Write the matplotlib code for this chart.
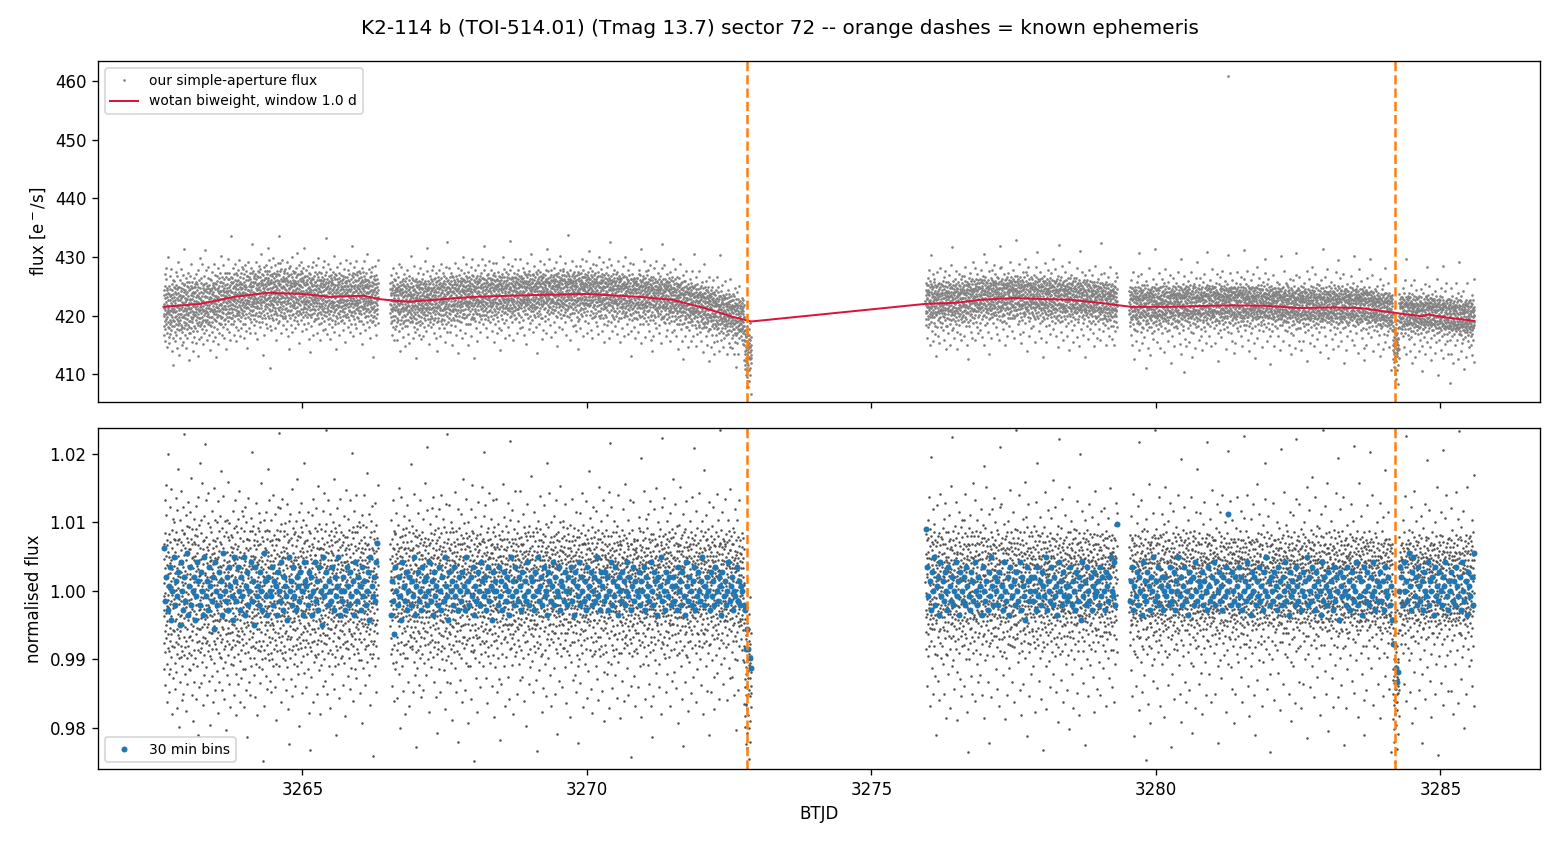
import numpy as np
import matplotlib.pyplot as plt

# light curve segments, BTJD start / end
seg_start = [3262.56, 3266.54, 3275.95, 3279.53]
seg_end = [3266.33, 3272.89, 3279.32, 3285.60]

# normalised flux, one code per 200 s cadence (hand estimate of the cloud and the two dips)
# flux = 1 + (code + (third digit - 4.5) / 10 - 50) * code_step
code_step = 0.00065
seg1 = """
52 44 61 38 49 57 33 46 70 41 55 48 29 63 50 36 58 45 67 42 53 39 74 47 60 34 51 56 43 25 62 49 37 54 46 81 40 59 48 31
45 58 36 63 50 27 54 42 69 47 39 56 61 33 48 52 44 73 40 57 35 64 49 22 55 43 60 38 51 46 66 30 53 41 58 14 47 62 37 50
56 41 48 65 34 52 59 43 28 61 46 54 39 71 50 44 57 32 63 47 42 55 68 36 49 60 24 53 45 38 58 51 77 40 62 35 48 56 43 19
39 62 47 53 30 57 44 66 50 41 35 59 48 72 38 54 45 61 26 52 43 64 37 49 56 33 60 46 42 69 51 27 55 40 63 47 36 58 85 44
63 37 55 42 48 60 31 52 46 67 39 57 44 23 53 50 65 35 58 41 47 62 29 54 43 56 38 70 49 45 61 33 51 40 59 16 48 64 36 53
47 54 40 68 45 32 59 51 43 62 36 56 48 75 41 53 27 60 46 39 57 64 34 50 44 58 21 55 42 49 66 37 61 45 52 30 57 43 63 48
58 43 50 35 61 47 54 26 64 40 52 45 69 38 56 49 33 59 42 62 47 18 55 51 37 60 44 71 39 53 46 28 57 41 65 50 36 54 48 79
41 60 46 53 37 66 49 29 57 44 63 51 38 55 42 74 47 34 59 52 40 61 45 24 56 48 67 36 50 43 58 31 62 46 54 39 83 49 57 44
54 38 62 47 45 58 33 51 70 42 56 49 27 60 44 53 39 65 47 36 59 50 43 72 38 55 46 61 30 52 48 41 57 64 35 53 45 20 58 49
46 57 40 52 63 35 49 55 41 68 44 31 58 50 37 62 47 54 25 60 43 56 39 51 73 45 48 34 59 42 66 53 38 57 44 28 61 50 46 15
60 42 53 37 48 65 44 57 32 51 46 62 39 55 70 41 49 23 58 45 52 36 63 47 43 59 30 54 48 67 40 56 35 61 44 50 77 38 53 47
35 55 47 61 42 50 28 58 45 64 39 53 48 33 60 44 56 71 41 49 37 62 46 54 26 57 43 51 66 38 59 45 52 34 63 48 40 19 55 50
51 44 66 39 56 47 53 31 59 42 49 62 36 54 45 75 40 57 48 29 61 43 52 38 65 46 55 41 58 24 50 47 63 37 53 44 60 34 88 49
43 62 50 46 37 59 54 41 68 48 33 56 45 60 39 52 47 27 64 42 57 50 35 61 44 70 38 53 49 56 31 58 46 42 65 51 22 55 40 59
57 39 48 63 44 52 36 60 47 29 55 41 66 50 38 58 45 53 72 40 49 34 62 46 56 43 25 59 51 37 64 48 42 57 30 54 45 68 39 52
48 55 41 58 32 50 67 45 53 38 61 46 43 56 24 59 49 40 63 52 36 57 44 69 47 33 54 60 42 50 38 65 46 55 28 51 43 17 62 47
62 45 54 36 49 59 42 71 47 53 30 56 44 61 39 50 46 64 35 57 41 52 27 60 48 43 66 37 55 49 58 33 53 45 40 63 50 81 44 56
40 58 47 52 65 38 55 43 49 31 60 46 57 35 62 44 51 26 58 48 37 63 42 54 70 45 50 39 59 47 34 56 61 43 52 22 57 46 41 64
53 37 60 45 48 56 33 63 50 42 57 68 39 54 46 29 61 44 52 36 65 49 41 58 47 74 38 55 43 51 62 32 57 48 45 59 35 53 12 50
46 61 39 55 51 44 66 37 58 48 24 53 42 60 47 35 56 63 40 49 54 31 59 45 68 43 50 38 62 52 46 57 28 64 41 55 47 77 36 58
59 43 52 34 64 47 55 40 49 70 38 57 45 53 30 61 48 42 58 36 66 51 44 27 56 49 39 62 46 53 35 60 43 50 72 41 57 47 33 54
42 56 48 63 37 51 59 45 28 54 41 67 50 39 57 46 62 34 52 44 60 38 55 21 48 64 43 53 36 58 47 41 69 50 45 56 31 62 49 85
55 40 61 46 52 33 58 44 69 49 42 56 37 63 50 47 25 59 43 54 39 65 48 51 36 57 45 71 40 53 60 30 55 47 42 58 35 64 50 44
38 59 45 54 62 41 50 36 57 47 65 34 53 43 60 49 28 56 41 52 70 45 58 39 48 63 33 55 46 51 40 61 24 57 44 50 66 37 53 16
61 47 53 39 56 44 67 50 35 58 42 54 48 30 62 46 57 40 51 73 43 55 37 60 49 26 59 45 52 64 38 56 41 48 34 63 50 57 43 55
44 52 58 36 48 63 41 55 29 60 47 53 38 66 45 50 57 33 61 42 54 47 75 39 56 51 44 31 58 46 62 37 53 49 43 68 40 55 20 59
56 38 47 62 43 55 51 34 64 46 40 58 52 70 37 49 45 60 27 54 48 63 41 57 35 52 46 66 39 59 44 50 32 61 47 56 42 79 51 45
50 61 42 55 37 58 46 49 65 39 53 44 28 57 51 41 62 36 56 47 59 33 50 43 68 45 54 38 63 48 23 55 42 60 46 52 37 58 14 53
45 54 63 40 57 48 36 52 59 44 31 61 47 55 42 67 38 50 56 46 25 60 43 53 49 71 39 57 45 62 34 51 48 41 58 54 36 64 47 49
58 41 50 46 69 35 56 43 53 60 38 48 45 63 51 27 57 42 55 39 61 47 52 74 36 54 44 59 32 50 46 65 40 56 53 43 22 60 48 57
39 60 52 45 33 58 49 64 42 55 47 37 62 50 44 57 29 53 46 68 41 59 48 35 56 43 61 51 38 54 72 45 49 58 30 63 47 40 55 86
54 46 59 38 51 65 43 56 40 49 27 61 47 53 36 58 44 70 50 42 57 33 63 48 55 39 52 45 60 24 56 41 67 46 53 37 59 50 44 62
47 57 41 63 45 52 36 59 54 31 60 48 43 66 39 55 50 46 58 28 62 44 53 40 75 47 56 35 51 61 42 49 57 33 64 45 38 54 18 52
63 42 55 48 37 61 50 45 57 69 40 53 34 59 47 56 43 62 26 51 46 58 39 65 44 52 48 37 60 54 41 71 49 55 35 57 43 50 63 46
41 56 49 60 44 35 58 52 47 63 38 55 42 29 61 50 57 45 67 40 53 48 34 59 46 22 56 43 62 51 39 58 47 54 73 44 60 37 52 48
52 45 62 39 57 48 54 31 60 43 51 66 37 56 46 42 59 35 64 49 55 41 28 58 47 53 70 44 50 38 61 45 57 33 54 49 40 63 46 81
57 40 51 47 64 43 58 38 53 49 25 62 45 56 41 68 48 36 55 52 44 60 33 57 46 63 39 50 54 42 72 47 59 30 53 45 65 37 56 43
44 63 48 55 36 52 60 45 41 57 50 34 66 47 54 39 61 43 27 58 49 53 40 64 46 56 35 52 59 44 48 62 38 55 20 51 67 43 57 49
60 47 54 42 58 33 51 65 45 56 39 62 48 44 53 71 37 59 46 50 29 57 43 61 52 38 55 47 64 41 49 56 34 60 45 53 42 58 76 47
49 55 38 61 46 52 43 67 40 57 48 31 59 53 45 62 36 54 50 42 58 24 63 47 55 39 51 44 66 48 57 35 60 43 52 69 46 38 55 13
53 44 59 47 36 62 50 55 41 58 45 64 39 52 48 70 42 56 33 61 47 54 27 59 43 50 65 38 57 46 53 40 62 49 44 56 35 60 51 74
"""

seg2 = """
48 57 42 61 36 54 50 45 66 39 53 47 29 58 44 62 51 37 56 43 70 49 34 60 46 55 41 52 25 59 48 64 38 53 45 57 32 63 50 44
55 41 63 46 50 34 58 47 53 68 40 56 44 61 37 49 26 57 52 43 59 38 65 48 54 45 31 60 42 51 73 47 56 36 62 49 44 55 19 58
43 60 49 54 39 57 45 71 48 33 62 51 46 55 40 58 64 36 52 47 28 61 44 56 50 42 67 38 53 59 45 35 57 48 63 41 54 22 60 46
59 46 52 38 64 44 56 49 35 61 47 53 42 69 50 57 30 55 43 60 48 39 63 51 45 58 24 54 47 66 40 52 56 37 59 44 50 78 42 53
46 53 61 40 55 48 37 59 50 44 65 38 57 52 27 60 46 54 41 63 49 34 58 43 72 47 55 39 51 62 45 31 56 48 42 60 53 36 64 15
52 39 56 47 62 43 51 58 33 54 46 60 41 49 67 37 55 45 59 29 52 48 63 40 57 44 53 35 61 50 46 70 38 55 43 58 26 51 47 62
40 58 45 63 49 54 36 57 44 51 28 60 47 55 42 66 39 53 50 61 34 56 46 43 59 52 74 41 48 57 38 62 45 53 31 60 49 56 44 82
57 47 54 41 52 68 45 59 38 50 56 43 62 35 53 48 46 60 23 57 44 51 65 39 55 49 42 61 36 54 47 58 33 63 50 45 56 40 69 52
45 62 39 56 48 35 60 53 42 57 71 46 50 37 63 44 55 49 30 58 47 52 64 41 56 38 53 45 67 50 43 59 26 54 48 61 36 57 46 18
61 44 50 58 37 55 47 64 42 52 39 59 46 56 33 62 48 41 68 53 45 57 27 60 50 44 54 36 63 47 58 40 51 72 43 56 49 35 59 48
38 55 47 60 51 43 66 40 57 49 32 61 45 53 58 37 64 46 52 24 59 44 55 41 50 63 35 56 48 42 70 47 54 39 61 45 57 30 53 85
54 49 58 35 62 46 53 41 57 69 44 50 38 60 47 55 29 63 51 43 56 40 59 48 66 37 52 45 61 34 57 50 42 64 46 54 21 58 44 51
47 63 42 55 50 38 59 45 53 61 36 57 48 44 72 40 56 49 33 60 46 52 64 39 55 43 27 58 51 47 62 37 54 45 59 41 68 50 56 16
56 43 60 48 36 57 51 45 64 39 53 47 58 30 61 44 55 50 41 67 46 59 35 52 48 63 42 56 38 54 25 60 49 45 57 53 40 62 47 75
42 58 47 53 65 40 55 49 37 61 46 52 43 59 28 56 50 63 38 54 45 71 48 57 34 60 44 51 39 62 47 55 33 58 52 43 66 46 20 54
60 46 52 39 56 48 62 44 54 33 59 50 41 57 47 68 37 53 45 61 26 55 49 42 64 51 38 58 46 53 74 40 57 44 50 36 63 48 55 12
49 54 37 61 45 57 41 53 67 46 50 35 59 43 56 48 62 31 55 47 40 60 52 44 58 23 63 49 39 56 45 70 42 54 48 59 34 51 61 46
53 40 59 47 63 44 51 56 38 60 48 28 55 42 65 50 46 57 36 53 61 43 49 73 39 58 45 54 41 62 47 33 56 50 44 67 38 59 52 81
44 61 50 36 57 49 54 42 69 47 55 39 60 45 31 58 52 43 63 40 56 48 25 59 46 53 64 37 51 57 44 62 35 54 49 41 58 47 72 50
57 45 53 62 41 55 47 34 60 50 43 58 66 38 52 46 59 29 56 44 61 48 40 54 70 47 51 36 63 45 57 42 53 22 60 49 55 39 64 46
41 56 48 59 33 62 46 52 44 57 71 39 54 49 60 37 55 43 27 61 50 46 58 40 65 53 45 56 35 59 48 42 63 51 47 54 30 58 45 17
58 47 62 43 50 55 38 60 46 53 29 57 44 64 49 41 56 52 36 61 47 54 74 42 58 45 50 33 62 48 55 39 59 46 67 43 52 24 56 50
46 53 40 57 65 44 59 48 35 55 51 42 62 47 56 38 60 45 53 70 41 57 49 31 63 46 54 43 58 26 52 48 61 37 56 44 50 66 40 84
55 42 58 49 37 60 47 54 43 68 39 57 51 46 33 62 45 53 59 40 56 48 22 61 44 55 50 64 38 53 47 58 35 62 43 57 49 41 73 52
50 61 45 53 59 36 55 48 42 63 47 27 58 52 44 57 39 66 49 54 41 60 46 34 57 51 43 62 38 55 72 45 59 48 53 30 56 42 61 47
37 56 50 62 44 52 47 58 31 60 45 55 49 40 67 53 46 57 35 61 48 43 59 52 25 56 47 64 41 54 58 38 50 45 63 48 55 20 59 44
62 44 53 47 57 39 61 50 46 55 70 42 58 36 52 48 63 45 54 29 59 47 41 56 50 65 37 53 44 60 46 57 33 62 51 43 55 76 40 53
48 57 42 60 51 45 34 58 53 47 62 40 55 49 27 63 44 56 52 38 59 46 68 43 54 50 36 61 47 57 41 53 64 45 30 58 49 55 42 14
54 39 59 46 52 63 43 57 48 37 60 51 45 55 66 40 58 47 53 32 61 44 50 57 38 64 49 42 56 71 46 53 35 59 48 44 62 51 23 57
43 60 48 55 36 58 44 52 61 47 54 28 63 50 45 57 41 69 53 46 59 34 55 49 42 62 37 56 48 51 58 26 60 45 53 65 39 54 47 79
59 46 53 40 57 49 64 44 51 35 60 48 55 42 58 72 38 56 47 53 31 61 45 50 57 43 66 52 39 59 46 54 24 62 48 56 41 58 45 51
47 54 61 38 56 50 43 59 46 67 40 53 57 45 33 62 49 55 41 60 48 27 58 52 44 63 37 56 50 46 70 42 55 59 36 53 47 61 18 56
52 45 57 49 39 63 47 55 42 58 30 61 50 44 56 65 38 53 47 59 43 51 74 46 57 35 60 48 54 41 62 45 28 56 50 43 59 52 37 64
45 59 42 54 66 47 51 37 60 48 55 44 62 33 57 50 41 58 46 69 39 55 52 44 61 25 56 47 53 40 64 49 58 36 54 46 51 43 60 87
56 48 63 41 53 45 58 50 36 61 47 22 57 54 43 60 49 38 65 46 55 51 42 59 34 57 48 71 44 53 61 39 56 47 52 30 62 45 58 50
41 57 46 52 60 38 55 49 64 44 53 31 58 47 56 42 61 50 27 59 45 54 68 40 57 48 36 62 51 46 55 43 59 33 53 64 47 50 39 16
60 47 54 43 58 35 62 51 45 56 40 67 48 53 29 59 46 55 42 63 38 57 49 44 61 72 36 54 50 47 58 41 56 24 60 45 52 65 43 54
49 55 39 61 46 53 57 44 34 60 52 47 63 41 56 48 70 37 55 45 58 51 26 62 43 54 47 59 39 64 50 44 57 32 53 61 46 49 55 77
53 42 60 48 55 45 66 37 57 50 43 59 28 54 47 62 40 56 51 35 61 45 53 48 58 23 64 42 55 49 57 38 52 69 46 59 44 50 36 62
44 58 51 36 63 47 54 41 57 49 60 33 55 46 52 68 39 58 45 61 43 50 30 57 53 47 64 40 56 48 25 62 51 44 58 37 55 46 73 49
57 46 52 62 40 55 48 35 59 53 44 66 42 57 50 38 61 47 54 27 58 45 63 51 41 56 48 70 36 53 59 44 50 32 62 47 55 43 21 58
42 61 47 55 38 58 51 45 64 36 53 49 57 43 60 31 56 48 52 67 40 55 46 59 34 62 50 44 57 24 54 47 61 39 53 72 45 58 49 83
55 44 59 48 53 34 62 46 57 41 50 69 38 55 47 60 43 52 28 58 49 63 37 56 45 53 42 66 50 35 59 47 54 40 61 46 31 57 52 45
48 57 40 63 46 54 59 37 52 47 61 44 26 56 50 42 65 39 57 48 53 34 60 45 55 71 41 58 49 46 62 36 54 43 59 51 22 56 47 61
61 43 55 49 36 60 47 53 42 58 64 39 56 50 45 30 62 48 54 41 57 68 44 51 37 59 46 55 25 63 49 43 57 52 40 56 47 74 38 53
46 55 62 40 57 51 44 58 33 53 47 61 38 56 49 66 42 54 59 45 27 60 48 52 41 63 36 57 50 46 55 70 43 58 39 52 47 29 61 13
53 48 38 61 45 56 50 64 42 54 47 35 59 52 43 57 70 40 55 46 61 31 56 49 44 58 36 62 53 45 24 59 48 54 41 60 46 57 37 55
40 59 52 46 57 43 62 49 36 55 61 45 50 28 58 47 53 41 64 44 56 39 51 67 48 55 33 60 46 52 43 57 63 38 54 47 59 22 50 80
58 45 51 60 43 56 38 54 48 63 41 57 46 52 34 61 49 44 59 72 37 55 50 42 58 26 53 47 62 45 56 40 60 51 35 57 44 66 48 52
47 54 64 41 52 58 45 33 60 49 55 42 67 38 56 48 53 29 62 46 57 43 50 61 36 54 47 59 44 70 40 55 51 24 58 46 63 39 56 17
55 42 57 49 61 37 53 46 59 44 50 26 63 52 45 56 40 68 48 54 43 60 35 57 51 46 62 38 55 49 73 44 58 32 53 47 61 42 56 50
43 60 48 55 39 57 52 45 66 41 54 59 34 50 47 62 44 56 28 58 49 53 40 64 46 55 37 61 51 43 57 48 22 60 45 54 69 39 52 84
59 46 53 38 62 47 56 44 50 71 40 58 45 54 36 60 49 43 57 63 35 55 48 52 41 59 27 56 46 61 44 53 50 66 38 57 47 31 62 49
50 56 41 60 45 52 58 35 63 48 43 55 61 39 57 46 24 59 51 44 67 42 54 48 56 37 62 45 53 58 30 50 47 64 43 55 49 40 75 57
46 53 62 43 55 49 37 58 51 45 60 32 56 47 63 40 54 50 69 44 57 28 52 48 61 38 55 46 59 42 53 65 36 57 49 44 60 51 20 54
61 47 52 40 57 44 65 49 54 36 59 46 53 41 60 73 45 56 39 51 62 48 33 58 44 55 50 26 63 47 56 42 59 37 52 48 67 45 55 15
44 58 49 63 38 55 47 53 60 42 29 57 51 45 64 40 56 48 36 61 53 46 58 70 41 54 49 35 60 44 57 52 23 59 47 62 43 56 50 39
56 42 60 47 53 34 58 50 45 66 39 55 48 61 43 52 27 57 46 63 41 54 59 49 37 62 45 56 51 71 40 57 44 31 53 48 60 46 55 82
49 61 45 55 42 58 52 38 63 47 56 44 50 68 36 59 48 54 25 60 46 53 41 57 64 43 55 49 33 61 47 52 58 40 56 45 72 38 54 51
53 46 58 39 62 50 44 57 35 54 60 47 41 56 52 29 63 45 55 48 59 37 51 66 43 57 49 40 62 46 54 22 58 51 44 60 38 56 47 77
40 57 51 63 46 53 59 42 55 48 33 61 45 56 50 67 39 54 47 58 28 62 44 52 41 60 55 36 57 49 43 64 47 53 70 38 56 45 59 18
58 45 52 47 60 38 56 50 43 62 54 46 27 59 51 44 57 65 40 53 48 61 35 55 47 58 42 69 50 44 56 31 60 48 53 39 62 46 24 55
47 54 60 42 57 49 36 58 53 45 63 41 56 48 72 39 55 50 44 59 32 62 47 54 40 57 51 66 43 55 26 60 46 52 58 37 54 48 61 86
55 49 43 61 46 56 52 39 64 47 53 34 58 50 44 60 41 57 68 45 54 29 62 48 51 56 38 59 46 53 43 61 49 35 57 71 44 52 47 60
42 60 48 55 37 58 46 63 51 44 57 40 54 25 61 49 56 43 59 47 66 38 53 50 45 62 33 56 48 57 41 64 52 46 55 30 59 44 73 51
59 46 54 41 62 47 50 57 36 55 49 44 60 53 31 58 46 64 42 56 48 39 61 52 45 57 27 63 50 43 55 68 40 54 47 59 35 57 49 19
48 55 39 61 52 44 58 47 66 41 56 50 35 59 45 53 62 43 57 28 55 48 60 42 51 70 46 54 38 58 49 44 57 43 52 61 47 55 39 50
47 58 42 54 50 63 45 37 56 49 60 44 53 41 57 48 35 62 46 55 51 43 59 38 52 46 34 25 41 19 30 37 28 22 44 16 33 27 39 24
31 40 25 18 43 34 29 15 37 46 24 32 41 27 08 35 30 22 39 33 45 19 28 36 12 42 26 34 21 38 31 49 16 29 40 24 35 04 32 27
"""

seg3 = """
52 46 58 41 55 63 44 50 37 57 48 54 29 61 45 53 66 40 56 49 43 59 35 62 47 52 71 38 55 46 57 42 60 24 53 48 64 44 51 80
45 57 50 39 62 47 54 43 59 33 56 48 61 42 68 52 46 55 27 60 44 53 38 63 49 57 41 50 65 36 54 47 58 45 31 61 52 43 56 18
60 43 53 48 57 36 61 50 45 55 69 40 54 47 58 30 62 46 52 41 59 49 25 56 44 63 38 55 51 46 60 42 72 48 53 35 57 45 50 62
47 55 62 44 51 58 38 56 49 42 64 46 53 34 60 48 57 41 66 50 44 27 59 53 47 61 39 55 45 70 43 52 58 36 63 49 54 22 57 46
54 41 57 49 36 60 52 45 63 47 55 31 58 43 50 67 40 56 48 53 61 37 54 45 59 24 62 46 51 57 43 55 39 74 48 60 44 52 33 85
43 59 46 54 61 40 56 48 52 35 63 45 57 50 28 58 47 55 42 65 39 53 49 60 44 56 37 62 51 46 70 41 57 47 54 32 59 45 21 53
58 47 52 63 44 55 39 57 50 46 61 36 54 48 68 42 59 45 53 30 60 49 43 56 40 64 52 47 57 26 55 44 62 38 53 50 58 41 66 48
50 56 42 59 47 53 66 38 55 44 29 61 49 57 45 52 40 63 47 55 72 39 56 50 43 60 35 54 48 58 46 62 23 57 51 44 59 37 53 14
46 61 55 43 57 49 35 60 52 47 64 41 55 50 38 59 44 67 48 53 31 62 46 56 42 58 50 27 63 45 54 40 60 49 57 36 55 74 44 52
57 44 50 62 39 56 48 53 45 70 41 58 47 25 60 52 44 57 37 63 49 54 43 59 34 55 48 61 46 52 66 40 57 45 30 58 51 43 62 47
41 58 47 54 60 45 52 36 63 50 44 57 49 31 61 46 55 68 42 53 48 59 38 56 45 62 27 57 51 43 60 47 54 40 65 49 56 22 53 78
55 48 62 40 56 51 45 59 34 54 47 64 42 57 50 39 61 46 73 53 44 58 36 55 49 60 43 52 29 62 47 56 41 59 50 45 67 38 54 16
48 57 43 60 52 46 38 58 54 44 63 49 56 41 26 59 47 53 62 39 55 50 45 68 42 57 48 35 61 53 46 58 40 55 71 44 51 60 47 56
61 45 55 49 42 58 66 40 53 47 57 33 60 51 44 56 48 64 37 54 50 28 59 46 55 42 63 48 52 39 57 45 60 24 53 49 56 43 69 82
44 56 51 37 61 48 54 43 59 46 52 70 39 57 45 62 35 55 49 53 41 60 47 31 58 52 44 65 40 56 48 54 57 36 62 46 50 43 59 21
53 47 59 44 56 35 62 50 46 57 41 54 60 48 27 63 45 55 52 38 58 43 66 49 54 40 61 47 56 33 59 51 44 73 42 55 48 57 38 61
49 60 42 55 47 63 51 38 57 45 54 30 59 48 44 62 53 40 56 68 46 52 37 61 49 55 43 58 25 54 47 60 39 56 51 45 64 42 53 86
56 43 58 50 40 61 47 54 64 39 55 46 52 59 34 57 48 43 62 51 71 45 55 36 58 47 53 41 60 49 28 56 44 63 52 38 57 46 22 59
45 54 61 47 52 37 58 49 44 66 41 56 53 46 60 29 55 48 63 42 57 50 39 59 45 54 74 40 58 47 52 35 61 44 56 50 43 67 48 17
59 48 53 42 57 64 45 51 38 60 47 55 43 69 50 36 58 46 54 41 62 26 56 49 45 60 52 38 55 47 63 44 57 31 53 48 59 41 56 50
42 57 49 62 45 53 40 58 51 33 60 47 56 44 65 52 38 55 48 61 43 23 57 50 46 59 37 64 53 45 56 41 70 48 54 39 60 46 52 79
56 45 59 51 38 55 47 63 42 57 49 30 61 46 53 44 58 67 40 55 48 52 35 62 47 56 43 59 50 26 57 45 54 41 63 48 36 58 47 14
48 61 44 55 52 39 58 46 64 43 56 50 37 60 47 54 72 42 57 49 45 61 33 55 48 53 41 59 24 56 51 44 62 38 54 47 60 43 68 55
53 46 56 40 61 48 54 34 59 50 44 57 63 41 55 47 28 60 52 45 58 39 66 49 53 43 57 36 62 46 55 50 42 59 31 56 48 75 44 51
46 58 51 44 57 62 39 54 48 56 42 60 35 53 47 69 45 55 50 38 61 44 57 27 52 49 63 40 56 46 58 43 54 21 60 47 52 65 37 84
60 44 52 57 41 55 48 36 62 46 53 59 43 56 30 58 51 45 64 39 54 47 60 42 71 50 46 56 37 57 44 53 61 48 25 59 45 52 40 56
43 55 61 46 53 49 57 38 59 45 67 42 54 50 34 62 47 56 44 58 52 40 28 60 48 55 43 63 51 46 57 36 54 49 73 41 58 45 61 19
55 49 40 58 52 45 63 47 54 37 60 43 56 51 66 44 57 48 31 61 46 53 41 59 50 24 62 45 56 47 54 39 64 52 43 58 46 35 57 50
47 62 53 44 56 38 59 50 45 57 42 64 49 54 27 60 46 55 43 70 48 52 39 58 45 61 36 56 50 44 63 41 55 47 22 59 53 46 57 81
58 45 50 61 43 55 47 33 60 52 46 57 40 53 68 44 59 49 55 37 62 47 51 42 58 29 56 45 63 50 39 57 48 54 43 61 46 66 52 15
44 57 48 54 62 41 56 50 45 59 35 53 47 64 43 55 52 26 61 46 57 40 58 49 70 44 54 38 60 51 45 56 33 59 48 53 42 63 47 57
51 46 59 43 55 48 37 62 53 45 57 67 41 56 49 31 60 47 54 44 58 39 63 50 46 55 23 59 48 42 61 52 45 57 36 54 72 49 56 40
56 52 41 60 47 54 45 58 28 63 49 53 42 57 46 61 38 55 50 65 44 52 48 34 59 47 56 43 62 40 54 51 46 60 27 57 45 53 68 87
47 59 54 40 56 49 63 44 52 57 38 55 46 61 33 58 50 43 69 48 54 41 60 47 55 36 62 45 53 58 42 56 49 24 60 46 52 64 41 53
62 44 51 57 46 53 39 60 48 55 43 66 50 35 58 47 54 41 62 45 56 30 59 52 44 57 73 40 55 49 61 37 53 47 58 43 56 50 28 59
45 56 48 63 42 55 51 37 59 47 54 60 43 57 25 62 50 46 56 40 65 48 53 44 58 34 61 47 55 52 39 57 46 70 43 60 49 53 36 68
"""

seg4 = """
53 45 60 48 57 41 55 63 46 52 38 59 50 44 67 42 56 49 32 61 47 54 43 58 26 62 51 45 57 39 55 48 72 44 53 60 36 57 50 17
48 61 44 55 50 36 58 47 63 42 54 57 45 29 60 52 46 56 40 65 49 53 43 59 35 56 48 62 41 54 47 69 39 57 51 45 60 23 55 83
57 46 53 40 62 49 55 44 58 34 61 47 52 70 43 56 50 38 59 46 54 27 63 48 55 42 57 51 45 60 37 53 64 47 56 44 50 31 58 52
44 55 62 47 51 58 39 56 46 53 66 41 57 49 36 60 45 54 48 63 42 25 59 52 46 56 40 61 50 44 57 74 38 55 48 53 61 43 59 20
60 43 49 57 45 54 61 37 55 48 42 59 52 33 62 47 56 44 58 68 40 53 49 45 60 30 57 51 46 63 41 54 48 56 35 62 45 53 43 86
47 58 52 41 60 46 54 49 64 39 56 45 53 28 61 50 43 57 47 55 36 62 51 44 58 71 42 56 48 53 39 60 46 24 57 52 45 63 40 55
55 44 57 50 38 62 48 53 45 59 43 67 47 55 52 34 60 46 57 41 63 49 54 22 58 46 52 65 43 56 50 37 61 45 54 48 59 42 73 51
41 59 46 54 63 47 52 57 35 60 49 44 56 51 42 61 29 57 48 53 66 40 55 47 59 44 52 36 62 50 46 57 43 55 70 48 53 39 60 15
58 47 53 44 56 49 40 61 52 46 58 31 63 45 55 50 42 59 68 47 54 37 57 43 60 51 26 56 48 62 45 53 41 58 50 64 38 55 47 57
49 56 61 42 54 47 58 37 55 51 45 63 40 57 48 53 72 44 59 46 33 60 52 45 56 41 62 49 55 27 58 46 53 43 61 39 56 50 21 80
54 45 51 60 46 55 42 57 49 64 38 56 47 52 59 35 61 48 43 57 50 69 44 55 46 58 30 62 49 53 41 56 47 60 45 25 57 52 63 48
46 60 48 55 41 58 52 45 36 62 47 54 43 59 66 40 56 50 45 57 28 61 53 44 58 47 52 38 63 49 55 42 71 46 57 51 34 59 44 18
59 44 56 47 53 62 40 55 49 45 58 33 61 50 46 56 42 64 48 53 24 59 47 55 51 39 62 45 57 43 54 68 48 52 37 60 46 56 41 77
43 57 50 61 45 53 48 38 59 46 55 63 42 56 51 29 60 47 54 44 58 41 67 49 53 46 61 36 57 50 44 55 59 32 62 48 54 45 22 56
56 48 42 58 52 46 65 40 55 49 57 43 53 70 45 59 37 54 47 61 44 56 50 34 62 46 53 41 58 27 57 49 45 63 51 43 56 39 60 84
50 55 47 60 39 57 45 53 61 44 56 48 31 63 52 46 58 42 55 49 66 38 59 47 54 43 60 25 56 51 45 57 40 62 48 73 44 53 58 46
45 61 53 43 57 50 36 59 48 55 44 62 47 54 40 58 52 27 61 46 56 42 64 49 53 38 57 45 60 51 47 55 69 41 58 46 33 56 50 16
57 46 52 58 41 54 49 63 45 56 39 60 47 53 68 43 57 50 35 61 48 55 44 59 46 30 62 52 45 57 41 54 49 72 38 56 47 60 43 53
48 54 60 45 55 42 58 51 36 62 47 53 44 57 49 65 40 56 52 23 59 46 54 48 61 43 57 37 55 50 46 63 42 58 53 34 60 47 55 81
52 47 56 40 61 49 54 45 59 43 70 48 55 39 57 51 44 62 33 56 47 53 60 41 58 45 66 50 28 57 46 54 42 61 49 55 38 59 45 20
44 58 50 62 46 53 57 39 55 48 61 43 56 27 59 52 45 64 41 54 49 57 36 60 47 55 43 71 51 46 58 40 56 49 34 62 53 45 57 48
59 45 54 48 37 60 52 46 57 43 63 49 55 41 58 68 44 53 31 61 47 56 42 59 50 25 57 46 54 62 40 55 48 60 44 52 38 66 47 85
46 57 42 55 61 48 53 44 59 35 56 50 64 45 52 38 60 47 57 43 54 72 49 55 40 58 46 29 62 51 45 56 43 59 48 53 37 61 22 54
55 49 61 44 52 47 58 39 56 66 45 53 50 33 60 47 55 43 62 48 41 57 52 36 59 46 54 69 42 56 49 61 27 55 47 53 44 58 50 18
48 56 43 59 50 55 37 62 46 53 57 41 54 49 74 44 58 47 30 61 52 45 56 39 63 48 55 42 57 50 35 60 46 54 43 67 49 52 58 45
61 44 53 47 58 40 56 51 45 63 38 55 49 57 24 60 47 54 43 59 52 46 65 41 56 48 53 34 62 45 57 50 39 58 44 55 71 47 53 79
43 55 58 49 45 61 52 37 57 47 54 60 44 56 50 28 63 48 53 42 58 46 55 67 40 57 51 45 59 36 54 49 62 43 56 47 31 60 52 14
56 47 51 60 43 55 48 63 46 53 39 58 45 56 61 49 35 57 52 44 59 70 42 55 48 53 26 61 46 57 44 54 50 38 62 47 56 41 58 50
49 60 46 54 52 41 58 47 55 44 66 50 37 57 53 45 59 42 62 48 54 32 60 46 56 43 58 51 47 64 39 55 49 23 57 52 45 61 43 82
54 45 57 43 60 49 53 38 56 47 62 51 44 58 29 55 48 63 46 53 40 59 52 72 45 56 42 57 49 36 61 47 54 44 59 50 65 41 55 48
42 58 53 46 55 64 43 57 48 52 35 60 46 55 50 41 62 47 54 57 27 59 44 53 49 61 38 56 47 55 43 68 51 45 58 34 62 48 53 21
57 48 44 59 50 54 39 61 47 53 58 45 67 42 56 49 33 60 52 46 55 40 63 48 57 44 54 25 59 50 46 56 71 43 55 48 60 37 52 84
45 56 61 42 57 48 53 46 59 37 55 50 44 62 47 54 70 41 58 49 52 30 61 45 56 43 59 53 38 57 47 64 45 55 50 24 60 46 54 57
58 43 52 56 47 60 45 54 41 63 49 55 29 58 46 53 44 61 50 66 39 56 48 54 43 59 35 62 47 55 52 45 57 40 60 48 73 53 44 17
50 57 46 53 62 40 56 48 55 44 59 36 61 52 47 54 43 68 49 57 45 28 60 53 46 56 42 58 50 64 38 55 47 59 44 53 33 61 49 76
46 54 59 45 51 57 42 63 48 55 39 60 47 53 58 44 26 61 50 56 43 57 49 71 45 54 40 59 52 46 62 37 55 48 57 43 65 50 31 56
55 49 43 61 53 46 57 40 56 48 64 45 52 35 59 47 55 42 60 51 22 58 46 54 67 44 57 49 38 62 45 53 59 47 55 41 56 50 43 86
48 62 51 45 57 43 55 60 47 52 38 59 46 56 69 42 54 49 32 61 47 55 44 58 50 27 63 46 53 57 41 55 48 60 45 52 74 44 58 19
60 45 54 48 56 41 59 52 46 63 43 55 50 36 58 47 54 61 44 57 49 39 62 48 55 45 66 42 56 51 30 59 47 53 43 60 46 55 24 52
47 56 42 58 50 64 45 53 38 60 49 55 44 57 33 62 51 46 56 72 41 54 48 59 45 52 37 61 47 55 53 43 58 26 57 49 54 40 63 80
53 44 59 47 55 40 57 50 62 46 54 43 68 49 56 35 61 45 53 48 58 42 29 60 52 46 57 41 63 48 55 44 59 50 37 56 47 71 45 15
45 60 52 43 57 49 55 61 38 56 47 53 44 59 51 24 62 46 55 42 58 49 65 40 57 46 54 33 60 48 53 45 58 39 61 50 56 44 52 57
58 47 54 50 41 59 46 56 43 63 52 36 57 48 55 45 60 70 44 53 49 30 62 47 56 42 58 51 45 61 39 55 48 66 46 53 27 59 50 83
44 55 48 61 46 53 57 39 56 50 45 62 42 58 47 54 34 60 52 46 57 43 64 49 55 41 59 22 56 48 53 45 61 40 57 74 47 54 43 58
56 49 62 44 52 47 58 41 55 36 60 53 46 57 67 43 54 48 59 31 62 45 56 50 42 58 47 53 38 61 49 55 44 57 25 60 46 52 63 18
49 57 43 55 60 47 53 38 59 45 56 50 44 62 28 58 48 54 41 61 46 55 69 43 57 51 35 60 47 53 45 59 42 56 50 64 39 55 48 81
61 46 53 48 57 42 56 50 45 59 33 62 47 54 43 58 52 72 45 55 40 60 48 53 46 57 24 61 49 44 56 51 38 59 46 54 43 63 50 47
47 54 58 43 55 49 62 45 53 40 57 48 65 44 56 51 37 60 46 53 58 29 55 47 61 42 57 50 45 59 35 54 48 56 44 70 41 58 52 22
55 42 50 57 46 61 48 54 39 58 45 53 47 63 41 56 50 26 59 46 55 43 60 48 67 44 57 52 36 61 45 54 49 58 42 56 31 62 47 77
50 58 45 53 62 44 56 47 55 41 59 52 35 57 48 54 43 61 46 68 50 38 58 45 55 49 62 42 57 28 53 47 60 44 56 51 45 59 40 14
43 57 52 48 60 45 54 39 58 50 47 61 44 56 49 33 27 38 21 30 42 16 29 35 24 40 19 31 26 45 12 34 28 37 22 30 41 25 09 33 28
36 20 43 27 31 14 38 25 32 46 23 29 40 18 34 27 06 35 30 22 41 28 49 57 45 62 53 47 56 41 59 50 44 55 60 38 54 48 57 46
58 45 53 40 61 48 55 43 57 50 66 44 52 36 60 47 54 29 59 46 56 42 63 49 53 45 71 41 57 50 38 55 47 61 44 58 52 25 56 85
46 55 60 43 52 57 48 37 62 45 54 50 59 41 56 47 64 34 58 49 53 44 60 27 55 48 57 42 61 46 52 69 40 56 50 45 59 36 54 20
57 49 44 58 51 63 45 54 40 56 47 53 60 32 57 50 46 62 43 55 72 48 52 39 59 45 56 49 24 61 47 53 44 58 51 66 41 55 48 57
43 60 52 47 55 38 58 46 54 61 44 57 49 28 63 45 53 50 42 59 47 56 35 60 48 54 43 67 51 45 57 40 62 46 55 31 58 49 53 16
54 47 58 42 56 50 45 64 41 55 48 53 37 60 46 57 44 70 49 52 43 59 26 56 47 61 45 54 39 58 50 44 62 48 55 33 57 46 60 79
48 56 43 59 46 53 62 40 57 49 54 45 68 42 55 51 30 60 47 56 44 58 50 36 61 46 53 57 43 55 22 59 48 54 63 41 56 45 52 48
60 44 55 50 57 41 53 47 61 38 56 49 45 59 52 43 65 47 54 27 58 46 55 42 62 49 53 34 57 50 45 60 40 56 73 47 54 43 58 13
45 58 49 54 40 61 47 56 52 44 59 35 57 48 63 43 55 50 46 60 29 56 49 53 42 68 47 55 44 58 51 38 62 46 54 57 24 59 45 82
55 46 61 43 57 48 52 39 59 50 45 56 66 42 54 47 58 33 60 49 53 44 57 71 46 55 40 61 48 52 45 59 36 56 50 43 62 47 27 56
49 57 44 55 62 46 53 41 58 51 36 60 47 54 45 59 69 43 56 48 53 28 61 45 57 50 42 58 47 64 39 55 49 54 44 60 46 22 57 48
58 45 53 48 56 40 61 47 55 43 59 52 34 57 46 63 50 44 58 72 42 55 49 37 60 46 54 51 45 57 25 62 48 53 43 66 47 56 41 86
44 59 50 57 45 53 47 62 41 55 49 58 43 30 61 52 46 56 40 64 48 54 45 59 51 35 57 47 68 43 55 50 46 60 38 54 58 44 52 19
56 47 54 61 43 57 49 45 59 39 55 52 46 63 48 27 60 45 56 50 42 58 47 73 44 55 51 37 61 46 53 57 41 59 48 54 33 62 45 50
51 46 58 43 56 49 62 45 54 40 59 47 55 35 61 48 53 44 66 50 57 42 29 60 47 55 45 58 52 38 63 46 54 49 57 24 59 47 53 76
"""

# third digit of each code above, same order
fine1 = """
3817460295713408265949207163850562938147 6092874135285016947371583920466837105294
1479302658940361827505724918363186047529 8256019374673928150421045786938390261574
4903617285159472036883629014755071834962 7341869502026857193494183025676259403718
2685039147735914602850472816391948267053 9130752864468037159227596830415603184792
5762184093810465372966043981257328950416 0498627315937150846274186293054659017382
6215390748248963701555927408136074285931 3870451926705124389648371596200936718245
8042967531361870924597258130644815923076 1596830247924053816730619845278362047159
7328104695056791238418470962535029861473 4651972803683240579162935071487904315628
2907568314119862705345016489323578194640 9473016285847509361272863150941263850397
5186243970302478165990314728566927401835 0734895162658013497284691503277451680923
3569017248914327085646273890151836092574 8210476395370598214673052164988041357269
6087352914142975638005836912474629713058 2453901786791604235818970245633507862491
9716048253628739106453172809661894025374 4302786915053168479220564398177462930815
1875360492840273516996389105425013786249 7629815034469185027340521637980376419582
0148629375215706948364958210736829530741 5394071862687923014575403619822457168093
3061957428903846271519726403854180293657 8725340169346159780236014978520974635120
2589613047718032965487395026143856702419 6940278351051796824360837159486213507968
4217685930629458013781260493570739281654 9853102476174630952804519782361602948735
0376849215836715024996052871341468391520 7612530894290847365173984605128095726341
1485927360763129580444036197852857304196 5930461782158796432019670354287312859604
8067213549402513876562841920736946015283
"""

fine2 = """
2750396148631482057999315402786047219356 6143857290158026493747290681535983610472
9382014576724591368004658123799416053827 0516792834396745018252801376946238715940
4871305629013670842595362409187560382714 7234568910865093721448096753210917456382
1698024753280417963526137485094382560179 5423879061941256083779401632857145903628
3057162489518934270660285917343769124805 8961430527093705618414763029587601839254
2184756390642817935053941708621498305167 6509128347385204769127690458133856274910
0732641985719063842596018273452087149635 4396270851273415096839524061786941582307
9145803672840927156371382690545362710498 3678019245416358072912870435962129084563
7820536914659174308255963210878410635729 1063287459087612943574091386524753928016
5497162083324805617936214859073087461952 8251940376796381025403758241699562304187
0679385124158236947021046975383415876290 4316728509613054782978592036142798013645
9528016473271869450394317580626054197382 2843659107854392016761920843574281639504
6170482935036847512986405713298643052718 3956204718492570683125168429373908426153
7482619053167305829643897156021537694280 1725308694745186037259210687948062513974
5034971826518423690788635492077194380625 8691427350273694580110473825666823957041
2307569184649715328054269103787356014892 6849031752985027461393857246109541672830
0516874293361849502776024958314287305169 4275190638027364185945718340296639874512
9638425017712950843601546972387012658347 3160798452456038917268193205744786021953
7904316825891472630542870461590453917268 1452683709230685749186325708919175236084
5817029364674213095827059184361934780526 0329857146358094176324731620589260153479
6741203985812760534958416039277582941630 2095364718046357281699205873413809462157
8563917024734081926537149562084126375908 3278046591495638170246823917509657820341
7412685390167923058489506234712341089576 0936751428523174689015387450261985743012
4680197253389406512763064791835724618953 9157830462916825307434219578066093257184
1823549706054719632880673192454318906725 5379062814728390461521548603971856243097
6042817359183562097465097126386431570829 2798436105641208759317831965402597614038
8516702943075941386258204387519062385714 3024159687396813524099718240653784021569
7651394028820457139636042971585109736482 0489263175453679801244586312070652498137
4217085936917238460589173056429846153720 9360742581245081693772906314858271039645
1875639402739562014863145792037438675021 5593028716016734925418620589746913208457
8126497035584906173202357816490367541982 2740351869237185406995071243689185362704
6458170392761029584317498365122509873416 0982643517408673152986213589407654120389
3517804269152946370845736021958032796145 7264931085639120857462089417536847051923
1039586742870351649217654830294126389570 4871250396316798042583902651787593214068
9605372148054263971836147092350261948735
"""

fine3 = """
5182736049621937485003846251979267034185 0743958162275081634946170389528451386920
6359014827813642709518925470367039251846 2917480653548193076253064187934612875039
8406129375071526483964739210851380946271 3672845190925349816017582943605894723158
7134067289468612053750213876499051268437 1859703426213958740628496517038726419503
4063591837690271468349371052846293857610 9527346018346875102965840932175148062394
0781925364872540396112659407387614293085 6348072591159823647084013586925570938142
2495618730638169705437281649057932486701 8216390457904536218695730128464187625039
5970243681317284956020469375182348190576 1603857294462018379587196453028751036942
7349162058805693427114938207565263904817 3058726419271846053698057164923906782351
9782504136640375918245203698711435679028 4126983570153927648379816245307689021456
0659314287382601954763649870253542867913 6831475029927048316580375149626018549237
2574106983468152730964726531089875302164 8095632741014376985321950287463306718452
3427819560759283014676084932577961243085 7961052348236750496819462153038420579631
1283796504590816243753139647802158936704 5610248973147325809268570218365834025197
9347561082813069452784261395784209563813 0175839246662948715033908716423671842509
4806273519237154096847651824902985617342 8532014697415092876310295739611432908576
2069438751780631952469146205837064183259 6714502938353826741092867943105617395028
3481976205096415328758023568749251740683 9250684317824763091536594081226843956170
"""

fine4 = """
1736925084362048157969158302475027369148 5249038617904176253820637149582681405739
8062471395251893604747925061384139857620 3914856720786530142931084725696405921387
7380214659413962785058261397403758140296 0625793841640725319874369508215926473051
4198360527382401697536017264894061832795 9853642170517839402612795483063587219604
2407915386095186724305842917361243096578 6571038249829753061488031659724716958302
1068457932463028519743596810277390261845 5792613084930647285112407395680954813726
8314290765176891403225871436095238670419 3645781029657315928406938012547601495283
7903526418281490637539264758019872314560 0459172836749036851270613285948165027394
4826935107306572148953780649123497856012 9281047653852813790465041972836021739548
2537680914120469357386592713604558203679 6170394528693701524858427036591934681027
1892563740437258069121360985744389520716 5406817293965014732867913564208763145982
8743209615290836417530276841593217609435 3058971426741597280363158209767504839261
7629458130186342905724904357120682173948 0315746892528067143906382714569821560473
4961023578964125830718540971237045918632 9487315064317809256242683509481573049286
2130698457053471692861297462850936721504 6852143970489256301795073816342468293157
1279406835731640985327419056788109546823 5046837291265084713952861403977524138096
8693520147912735068431745289060357812649 3418769502386159427016394725815893607214
7732048619045928376158027964313279056481 0568931274579043612884561370297615340928
4285607391604512738962908135476041892357 9601352847327964185031479258604582736190
2953170486863217504679536019428714659032 6817429530192784360545812693078956281473
1360894275548103629780471825936203749518 5724063819276951483026398410762839160654
8049316752619732508413650947287481526390 3586271049435806917257018642395317089645
7810492635051637824969326780154560941782 0273658194782019456330795136828742305916
4692381057123584907616417095382603871459 9137506428569423718045862351974018627340
2458913760305917482682541709636395124087 6901274385947261509397036824151478260593
1365082794613480297516829543070847931625 5746319052280935641747301569826219475803
8039625417732150986424769308151586034279 3282741960465876319051498276430942817356
7514096823091627485368053914727360592418 0976358142524031976839621705483814609725
4630187259867352140953017298461795234860 9158703426179643528107542316980273861504
2874531690513085794246395870124520974316 6307295841058461239778143025697168350942
1524968073327890615452609714388031647259 5093741286794152308631086539271497023685
8459206315625037184979412860357328596170 3712849560148369027598350162749643018527
7285603194932718456016987420539052461738 0648317925471906238543216079582781935064
"""

# 30 min bins, one code per bin: flux = 1 + (code - 50) * bin_step
bin_step = 0.0007
bins1 = """
59 48 53 46 51 55 44 50 57 47 52 49 54 43 56 50 46 53 48 58 45 51 55 47 50 53 44 49 56 52
47 54 50 45 57 49 52 46 55 51 48 53 42 56 50 47 54 49 52 45 58 50 48 53 46 55 51 49 44 57
52 48 55 50 46 53 49 57 45 51 54 47 50 56 48 52 43 55 49 51 47 54 50 46 58 52 49 45 53 50
49 55 47 52 51 45 54 50 48 56 46 53 51 49 44 57 50 52 47 55 49 46 53 51 48 54 50 45 56 52
51 47 54 49 53 45 50 56 48 52 46 55 50 43 57 49 51 54 47 52 50 48 55 46 53 49 51 57 45 50
48 53 50 46 55 51 47 54 49 52 45 56 50 48 53 51 46 55 49 52 47 50 54 44 57 51 49 53 48 56 60
"""
bins2 = """
45 52 48 41 55 50 47 53 49 44 56 51 48 54 46 50 53 47 52 49 57 45 51 54 48 50 46 55 52 49
53 47 50 56 48 52 45 54 49 51 47 55 50 46 53 48 57 51 49 44 54 50 52 47 55 49 51 46 53 50
48 54 51 46 57 50 52 47 53 49 55 45 51 48 54 50 47 56 52 49 53 46 50 55 48 51 44 54 50 52
50 47 55 49 52 46 54 51 48 53 50 45 57 49 52 47 55 50 48 53 51 46 54 49 52 48 56 50 47 53
52 49 46 54 50 57 48 51 53 47 55 49 50 45 54 52 48 51 56 47 53 50 49 55 46 52 51 48 54 50
47 53 50 55 48 52 45 54 51 49 56 47 53 50 48 52 46 55 49 51 54 47 50 53 48 57 49 52 46 54
51 48 54 49 53 46 50 56 47 52 49 55 51 45 53 50 48 54 52 47 50 56 49 53 46 51 55 48 52 50
49 54 47 52 50 55 46 53 49 51 48 56 50 47 54 52 45 53 49 51 57 48 50 46 54 52 49 53 47 51
53 48 51 46 55 50 52 47 54 49 45 56 51 48 53 50 47 52 55 46 49 54 50 48 52 57 47 51 49 53
50 46 54 49 52 47 55 50 48 53 51 45 54 49 52 47 50 56 48 51 53 46 50 49 55 48 52 47 51 50
47 46 38 42 38 36 34
"""
bins3 = """
63 55 49 52 46 54 50 57 47 51 53 45 56 49 52 48 54 50 46 55 51 48 53 47 50 56 49 52 45 54
50 48 53 47 55 51 49 46 54 52 48 56 50 47 53 49 51 45 55 50 48 52 46 54 49 57 51 47 53 50
52 47 54 49 51 46 56 50 48 53 45 55 51 49 52 47 54 50 48 56 46 53 51 49 44 55 52 48 50 53
48 53 50 46 55 49 52 47 54 51 49 57 46 52 50 48 55 47 53 49 51 45 56 50 52 47 54 49 51 48
51 49 55 47 52 50 46 54 48 53 51 44 56 49 52 47 55 50 48 53 46 51 54 49 50 52 47 55 49 53
50 46 54 51 48 53 57 50 49 56 47 64
"""
bins4 = """
48 52 55 46 51 49 54 47 53 50 45 56 49 52 48 54 51 46 53 50 57 48 52 49 55 47 51 53 46 50
53 49 51 47 55 50 48 54 46 52 50 57 49 53 47 51 55 48 50 45 54 52 49 53 47 56 50 48 52 51
49 54 47 52 50 46 55 51 48 53 49 56 47 52 50 54 48 51 46 53 49 55 50 66 52 47 54 50 48 53
51 47 55 49 53 46 50 52 48 56 51 49 45 54 50 53 47 52 49 55 48 51 46 54 50 57 49 52 47 53
50 48 54 51 46 55 49 52 47 53 50 56 48 51 45 54 49 52 50 47 55 51 48 53 46 50 54 49 52 57
47 53 50 48 55 51 46 54 49 52 50 45 56 48 53 51 47 54 50 49 52 46 55 48 53 50 44 54 51 49
53 50 47 55 49 52 46 54 51 48 50 56 47 53 49 52 45 55 50 48 54 51 47 53 49 56 50 46 52 48
51 54 48 52 46 55 50 49 53 47 51 44 39 39 34 31 33 50 55 53 47 56 50 52 48 58 51 46 54 57
49 53 47 55 51 48 52 46 54 50 49 56 47 52 50 53 45 55 49 51 48 54 50 47 53 51 56 49 46 52
50 54 48 52 47 55 51 49 53 46 56 50 48 52 45 54 51 49 53 47 58
"""

# single points outside the coded range (BTJD, e-/s)
out_t = [3264.44, 3272.81, 3279.82, 3280.50, 3281.26, 3285.17]
out_flux = [411.0, 407.8, 411.1, 410.3, 460.9, 408.5]

# wotan biweight trend
trend_t = [3262.56, 3263.2, 3263.8, 3264.4, 3265.0, 3265.5, 3266.07, 3266.37,
           3266.67, 3266.9, 3268.0, 3269.0, 3270.0, 3270.93, 3271.5, 3272.1,
           3272.56, 3272.89, 3275.95, 3276.5, 3276.9, 3277.5, 3278.5, 3279.0,
           3279.32, 3279.56, 3280.2, 3281.3, 3281.9, 3282.5, 3283.1, 3283.6,
           3283.96, 3284.26, 3284.67, 3284.78, 3285.09, 3285.60]
trend_f = [421.5, 422.0, 423.2, 423.9, 423.7, 423.2, 423.4, 422.8,
           422.5, 422.4, 423.2, 423.5, 423.7, 423.2, 422.7, 421.2,
           419.8, 419.0, 422.0, 422.2, 422.7, 423.0, 422.7, 422.2,
           421.8, 421.5, 421.5, 421.75, 421.7, 421.3, 421.4, 421.3,
           420.8, 420.4, 419.9, 420.2, 419.7, 419.1]

# known ephemeris, predicted mid-transit times
epochs = [3272.82, 3284.21]


def decode(block, fine_block):
    codes = np.array(block.split(), dtype=float)
    fine = np.array(list(''.join(fine_block.split())), dtype=float)
    fine = np.concatenate([fine, np.full(max(0, codes.size - fine.size), 4.5)])[:codes.size]
    return 1 + (codes + (fine - 4.5) / 10 - 50) * code_step


out_t = np.array(out_t)
out_rel = np.array(out_flux) / np.interp(out_t, trend_t, trend_f)
half_bin = 15 / 1440

times, norm, bin_t, bin_f = [], [], [], []
for start, end, block, fine_block, bblock in zip(seg_start, seg_end,
                                                 [seg1, seg2, seg3, seg4],
                                                 [fine1, fine2, fine3, fine4],
                                                 [bins1, bins2, bins3, bins4]):
    f = decode(block, fine_block)
    t = np.linspace(start, end, f.size)
    inside = (out_t >= start) & (out_t <= end)
    t = np.concatenate([t, out_t[inside]])
    f = np.concatenate([f, out_rel[inside]])
    order = np.argsort(t)
    times.append(t[order])
    norm.append(f[order])
    bcodes = np.array(bblock.split(), dtype=float)
    bin_t.append(np.linspace(start + half_bin, end - half_bin, bcodes.size))
    bin_f.append(1 + (bcodes - 50) * bin_step)

times = np.concatenate(times)
norm = np.concatenate(norm)
bin_t = np.concatenate(bin_t)
bin_f = np.concatenate(bin_f)
flux = norm * np.interp(times, trend_t, trend_f)

fig, (ax1, ax2) = plt.subplots(2, 1, figsize=(13, 7.0417), dpi=120, sharex=True)
fig.subplots_adjust(left=0.0628, right=0.9872, top=0.9278, bottom=0.0899, hspace=0.076)

ax1.plot(times, flux, 'o', ms=1.6, mew=0, color='gray', label='our simple-aperture flux')
ax1.plot(trend_t, trend_f, color='crimson', lw=1.2, label='wotan biweight, window 1.0 d')
for e in epochs:
    ax1.axvline(e, color='C1', ls='--', lw=1.5)
ax1.set_ylim(405.25, 463.45)
ax1.set_ylabel('flux [e$^-$/s]')
ax1.legend(loc='upper left', fontsize='small')

ax2.plot(times, norm, 'o', ms=1.5, mew=0, color='0.3')
ax2.plot(bin_t, bin_f, 'o', ms=3.6, mew=0, color='C0', label='30 min bins')
for e in epochs:
    ax2.axvline(e, color='C1', ls='--', lw=1.5)
ax2.set_ylim(0.974, 1.0238)
ax2.set_ylabel('normalised flux')
ax2.set_xlabel('BTJD')
ax2.legend(loc='lower left', fontsize='small')

fig.suptitle('K2-114 b (TOI-514.01) (Tmag 13.7) sector 72 -- orange dashes = known ephemeris',
             y=0.977)
plt.savefig('out.png', dpi=120)
